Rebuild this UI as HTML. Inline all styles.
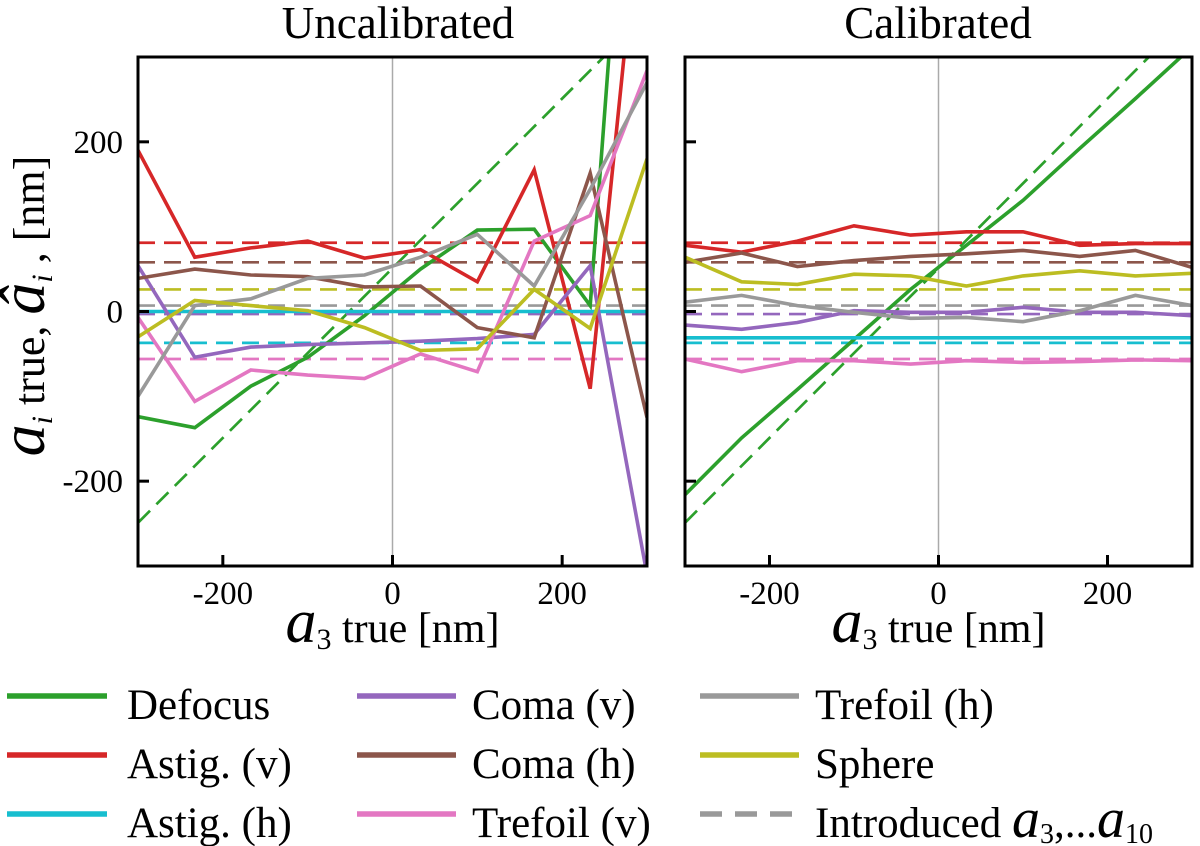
<!DOCTYPE html>
<html><head><meta charset="utf-8"><style>
html,body{margin:0;padding:0;background:#fff;}
svg{display:block;font-family:"Liberation Serif",serif;}
</style></head><body>
<svg id="chart" width="1200" height="846" viewBox="0 0 1200 846" xmlns="http://www.w3.org/2000/svg">
<text x="398" y="38" font-size="45" text-anchor="middle">Uncalibrated</text>
<text x="938" y="38" font-size="45" text-anchor="middle">Calibrated</text>
<g transform="translate(44,306) rotate(-90)">
<text x="0" y="0" text-anchor="middle" font-size="44"><tspan font-style="italic" font-size="64">a</tspan><tspan font-style="italic" font-size="30" dy="8">i</tspan><tspan dy="-8"> true, </tspan><tspan font-style="italic" font-size="64">â</tspan><tspan font-style="italic" font-size="30" dy="8">i</tspan><tspan dy="-8"> , [nm]</tspan></text>
</g>
<g id="p1"></g><g id="p2"></g>
<g id="legend"></g>
</svg>
<script>
const xs=[-300,-233,-167,-100,-33,33,100,167,233,300];
const seriesNames=["Defocus","Astig. (v)","Astig. (h)","Coma (v)","Coma (h)","Trefoil (v)","Trefoil (h)","Sphere"];
const colors=["#2ca02c","#d62728","#17becf","#9467bd","#8c564b","#e377c2","#999999","#bcbd22"];
const introduced=[51,81,-37,-3,58,-56,7,26];
const uncDefocus=[-124,-137,-88,-54,-5,50,96,97,7,900];
const uncAstigV=[190,64,75,83,63,73,35,167,-91,566];
const uncAstigH=[0,0,0,0,0,0,0,0,0,0];
const uncComaV=[54,-54,-42,-39,-37,-35,-32,-27,54,-310];
const uncComaH=[39,50,43,41,29,30,-19,-31,163,-125];
const uncTrefoilV=[-7,-106,-69,-75,-79,-50,-71,83,113,284];
const uncTrefoilH=[-100,7,15,39,43,64,91,30,144,270];
const uncSphere=[-30,13,7,1,-19,-46,-44,26,-20,180];
const calDefocus=[-216,-149,-92,-33,26,78,131,192,251,312];
const calAstigV=[78,70,83,101,90,94,94,78,80,80];
const calAstigH=[-31,-31,-31,-31,-31,-31,-31,-31,-31,-31];
const calComaV=[-16,-21,-13,1,-1,-1,5,-1,-1,-5];
const calComaH=[58,69,53,60,65,68,72,65,72,52];
const calTrefoilV=[-56,-71,-58,-58,-62,-58,-60,-59,-57,-58];
const calTrefoilH=[11,19,7,-1,-8,-7,-12,1,19,7];
const calSphere=[64,35,32,44,42,30,42,48,42,45];
const tickVals=[-200,0,200];
const tickLabels=["-200","0","200"];
const NS="http://www.w3.org/2000/svg";
function mk(tag,attrs,parent){const e=document.createElementNS(NS,tag);for(const k in attrs)e.setAttribute(k,attrs[k]);parent.appendChild(e);return e;}
const panels=[
 {g:document.getElementById('p1'),L:138,R:647,T:57,B:566,data:[uncDefocus,uncAstigV,uncAstigH,uncComaV,uncComaH,uncTrefoilV,uncTrefoilH,uncSphere],labels:true,id:'uncalibrated'},
 {g:document.getElementById('p2'),L:685,R:1192,T:57,B:566,data:[calDefocus,calAstigV,calAstigH,calComaV,calComaH,calTrefoilV,calTrefoilH,calSphere],labels:false,id:'calibrated'}];
panels.forEach((p,pi)=>{
 const sx=v=>p.L+(v+300)/600*(p.R-p.L);
 const sy=v=>p.B-(v+300)/600*(p.B-p.T);
 const cid='clip'+pi;
 const cp=mk('clipPath',{id:cid},p.g);mk('rect',{x:p.L,y:p.T,width:p.R-p.L,height:p.B-p.T},cp);
 const zl=mk('line',{x1:sx(0),x2:sx(0),y1:p.T,y2:p.B,stroke:'#aaa','stroke-width':1.5},p.g);
 
 
 const plot=mk('g',{'clip-path':'url(#'+cid+')'},p.g);
 introduced.forEach((v,i)=>{
  let l;
  if(i===0){l=mk('line',{x1:sx(-300),y1:sy(-300+v),x2:sx(300),y2:sy(300+v),stroke:colors[i],'stroke-width':2.7,'stroke-dasharray':'17,9'},plot);}
  else{l=mk('line',{x1:sx(-300),y1:sy(v),x2:sx(300),y2:sy(v),stroke:colors[i],'stroke-width':2.7,'stroke-dasharray':'17,9'},plot);}
  
  
 });
 p.data.forEach((arr,i)=>{
  const d=arr.map((v,k)=>(k?'L':'M')+sx(xs[k]).toFixed(1)+','+sy(v).toFixed(1)).join('');
  const pa=mk('path',{d:d,fill:'none',stroke:colors[i],'stroke-width':3.6,'stroke-linejoin':'miter'},plot);
  
  
 });
 const fr=mk('rect',{x:p.L,y:p.T,width:p.R-p.L,height:p.B-p.T,fill:'none',stroke:'#000','stroke-width':3},p.g);
 
 
 tickVals.forEach((v,k)=>{
  mk('line',{x1:sx(v),x2:sx(v),y1:p.B,y2:p.B-11,stroke:'#000','stroke-width':3},p.g);
  mk('line',{x1:p.L,x2:p.L+11,y1:sy(v),y2:sy(v),stroke:'#000','stroke-width':3},p.g);
  const tx=mk('text',{x:sx(v),y:604,'font-size':33,'text-anchor':'middle'},p.g);tx.textContent=tickLabels[k];
  
  
  if(p.labels){const ty=mk('text',{x:123,y:sy(v)+11,'font-size':33,'text-anchor':'end'},p.g);ty.textContent=tickLabels[k];
   
   }
 });
 const xl=mk('text',{x:(p.L+p.R)/2,y:642,'font-size':42,'text-anchor':'middle'},p.g);
 xl.innerHTML='<tspan font-style="italic" font-size="62">a</tspan><tspan font-size="30" dy="7">3</tspan><tspan dy="-7">  true [nm]</tspan>';
 
 
});
const lg=document.getElementById('legend');
const legItems=[[0,0,0],[1,0,1],[2,0,2],[3,1,0],[4,1,1],[5,1,2],[6,2,0],[7,2,1]];
const colX=[[7,107,127],[357,456,472],[700,799,815]];
const rowY=[696,755,814];
legItems.forEach(([i,c,r])=>{
 const g=mk('g',{},lg);
 
 
 mk('line',{x1:colX[c][0],x2:colX[c][1],y1:rowY[r],y2:rowY[r],stroke:colors[i],'stroke-width':5.5},g);
 const t=mk('text',{x:colX[c][2],y:rowY[r]+23,'font-size':43},g);t.textContent=seriesNames[i];
});
const g=mk('g',{},lg);


mk('line',{x1:700,x2:799,y1:814,y2:814,stroke:'#999','stroke-width':5.5,'stroke-dasharray':'22,13'},g);
const t=mk('text',{x:815,y:837,'font-size':43},g);
t.innerHTML='Introduced <tspan font-style="italic" font-size="56">a</tspan><tspan font-size="28" dy="6">3</tspan><tspan dy="-6">,...</tspan><tspan font-style="italic" font-size="56">a</tspan><tspan font-size="28" dy="6">10</tspan>';
</script>
</body></html>
